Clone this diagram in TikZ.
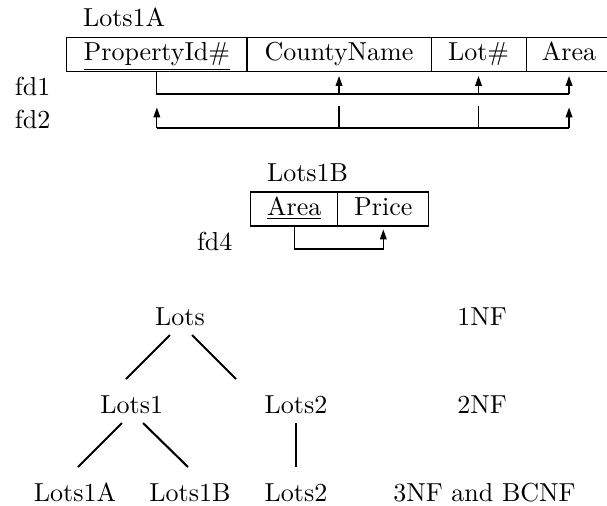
\documentclass[tikz,border=0pt]{standalone}
\usetikzlibrary{arrows.meta,calc}
\tikzset{
  cell/.style={draw, line width=0.4pt, inner sep=0pt, outer sep=0pt,
    minimum height=13.08pt, text height=6.94pt, text depth=2.3pt},
  lbl/.style={inner sep=0pt, outer sep=0pt},
  fdline/.style={line width=0.45pt},
  arr/.style={fdline, -{Triangle[length=3.8pt,width=2.6pt]}},
  tree/.style={line width=0.8pt}
}
\begin{document}
\begin{tikzpicture}[x=0.3846pt, y=-0.3846pt]
\useasboundingbox (0,0) rectangle (607,506);

% ---- Lots1A relation ----
\node[lbl, anchor=base west] (lotsAname) at (83,26.7) {Lots1A};
\node[cell, minimum width=69.35pt, anchor=north west] (c1) at (66.7,37.5) {\underline{PropertyId\#}};
\node[cell, minimum width=70.77pt, anchor=west] (c2) at (c1.east) {CountyName};
\node[cell, minimum width=36.54pt, anchor=west] (c3) at (c2.east) {Lot\#};
\node[cell, minimum width=33.08pt, anchor=west] (c4) at (c3.east) {Area};

\coordinate (fdoney) at (0,94);
\coordinate (fdtwoy) at (0,128);

\node[lbl, anchor=base west] (fdone) at (15,95) {fd1};
\node[lbl, anchor=base west] (fdtwo) at (15,128.5) {fd2};

% fd1
\draw[fdline] (c1.south) |- (c4.south |- fdoney);
\draw[arr] (c2.south |- fdoney) -- ($(c2.south)+(0,4.5)$);
\draw[arr] (c3.south |- fdoney) -- ($(c3.south)+(0,4.5)$);
\draw[arr] (c4.south |- fdoney) -- ($(c4.south)+(0,4.5)$);

% fd2
\draw[fdline] (c1.south |- fdtwoy) -- (c4.south |- fdtwoy);
\draw[arr] (c1.south |- fdtwoy) -- ($(c1.south)+(0,36)$);
\draw[arr] (c4.south |- fdtwoy) -- ($(c4.south)+(0,36)$);
\draw[fdline] ($(c2.south)+(0,34)$) -- (c2.south |- fdtwoy);
\draw[fdline] ($(c3.south)+(0,34)$) -- (c3.south |- fdtwoy);

% ---- Lots1B relation ----
\node[lbl, anchor=base west] (lotsBname) at (267,181.7) {Lots1B};
\node[cell, minimum width=33.46pt, anchor=north west] (b1) at (250.7,192) {\underline{Area}};
\node[cell, minimum width=35.1pt, anchor=west] (b2) at (b1.east) {Price};
\node[lbl, anchor=base west] (fdfour) at (197,250) {fd4};
\draw[arr] (b1.south) -- ++(0,23) -| ($(b2.south)+(0,3.5)$);

% ---- decomposition tree ----
\node[lbl, anchor=base] (lots) at (180,325) {Lots};
\node[lbl, anchor=base] (lotsone) at (131.7,413) {Lots1};
\node[lbl, anchor=base] (lotstwo) at (296,413) {Lots2};
\node[lbl, anchor=base] (lotsonea) at (75,501.7) {Lots1A};
\node[lbl, anchor=base] (lotsoneb) at (190,501.7) {Lots1B};
\node[lbl, anchor=base] (lotstwob) at (296,501.7) {Lots2};
\node[lbl, anchor=base] (nfone) at (482,325) {1NF};
\node[lbl, anchor=base] (nftwo) at (482,413) {2NF};
\node[lbl, anchor=base] (nfthree) at (484.5,501.7) {3NF and BCNF};

\draw[tree] ($(lots.base)+(-10,10)$) -- ($(lotsone.base)+(-5.7,-34)$);
\draw[tree] ($(lots.base)+(12,10)$) -- ($(lotstwo.base)+(-60,-34)$);
\draw[tree] ($(lotsone.base)+(-9.7,10)$) -- ($(lotsonea.base)+(3,-34.7)$);
\draw[tree] ($(lotsone.base)+(11.3,10)$) -- ($(lotsoneb.base)+(-2,-34.7)$);
\draw[tree] ($(lotstwo.base)+(0,10)$) -- ($(lotstwob.base)+(0,-34.7)$);
\end{tikzpicture}
\end{document}
